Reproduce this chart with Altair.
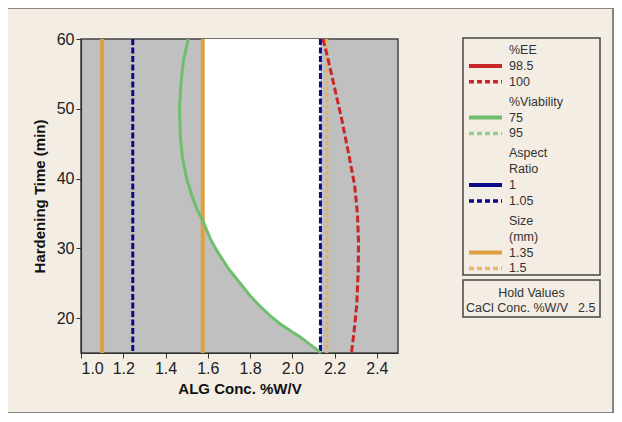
import altair as alt
import pandas as pd

# ---------------- data ----------------
x_ticks = [1.0, 1.2, 1.4, 1.6, 1.8, 2.0, 2.2, 2.4]
y_ticks = [20, 30, 40, 50, 60]

size_135_x = [1.10, 1.576]        # Size (mm) = 1.35 contour (solid orange)
size_150_x = [2.163]              # Size (mm) = 1.5 contour (dashed orange)
ar_105_x = [1.245, 2.133]         # Aspect Ratio = 1.05 contour (dashed navy)

via75_y = [60, 57, 54, 50, 46, 43, 40, 37.5, 35.5, 33.8, 31.5, 29.7, 27, 25,
           23.2, 21.7, 20.2, 19.2, 18, 17.3, 16.3, 15.3, 15.0]
via75_x = [1.508, 1.485, 1.474, 1.466, 1.470, 1.480, 1.500, 1.525, 1.550, 1.579,
           1.610, 1.642, 1.700, 1.753, 1.800, 1.848, 1.900, 1.942, 2.000, 2.037,
           2.080, 2.124, 2.135]

ee100_y = [60, 57, 53, 48.3, 43, 39, 35, 31, 27, 22, 18.3, 15]
ee100_x = [2.145, 2.170, 2.200, 2.235, 2.270, 2.295, 2.308, 2.313, 2.312, 2.305,
           2.293, 2.280]

legend_groups = [
    (["%EE"], [("98.5", "#c62828", "solid"), ("100", "#c62828", "dash")]),
    (["%Viability"], [("75", "#6dbf6d", "solid"), ("95", "#8fd08f", "dash")]),
    (["Aspect", "Ratio"], [("1", "#0a0a8a", "solid"), ("1.05", "#0a0a8a", "dash")]),
    (["Size", "(mm)"], [("1.35", "#e0a040", "solid"), ("1.5", "#e8b868", "dash")]),
]
hold_title = "Hold Values"
hold_name = "CaCl Conc. %W/V"
hold_value = "2.5"

# ---------------- styling ----------------
RED = "#c62828"
GREEN = "#6dbf6d"
NAVY = "#0a0a8a"
ORANGE = "#e0a040"
GRAY = "#c0c0c0"
BG = "#f3ede3"
FONT = "Liberation Sans"

W, H = 317, 314
xs = alt.Scale(domain=[1.0, 2.5], nice=False, zero=False)
ys = alt.Scale(domain=[15, 60], nice=False, zero=False)

x_axis = alt.Axis(values=x_ticks, format=".1f", title="ALG Conc. %W/V", grid=False,
                  tickSize=5, labelPadding=2, titlePadding=5)
y_axis = alt.Axis(values=y_ticks, title="Hardening Time (min)", grid=False,
                  tickSize=5, labelPadding=2, titlePadding=9)

# feasible (white) region
left_bound = [max(v, size_135_x[1]) for v in via75_x]
region = pd.DataFrame({"y": via75_y, "x": left_bound,
                       "x2": [ar_105_x[1]] * len(via75_y)}).sort_values("y")
white = alt.Chart(region).mark_area(orient="horizontal", color="white", opacity=1).encode(
    y=alt.Y("y:Q", scale=ys, axis=y_axis),
    x=alt.X("x:Q", scale=xs, axis=x_axis),
    x2="x2:Q",
)

def vrules(vals, color, dash, width):
    kw = dict(color=color, strokeWidth=width)
    if dash:
        kw["strokeDash"] = dash
    return alt.Chart(pd.DataFrame({"x": vals})).mark_rule(**kw).encode(
        x=alt.X("x:Q", scale=xs))

orange_solid = vrules(size_135_x, ORANGE, None, 4)
orange_dash = vrules(size_150_x, "#e8b060", [4, 2], 3)
navy_dash = vrules(ar_105_x, NAVY, [6, 2.5], 3)

green = alt.Chart(pd.DataFrame({"x": via75_x, "y": via75_y, "i": range(len(via75_x))})).mark_line(
    color=GREEN, strokeWidth=3).encode(
    x=alt.X("x:Q", scale=xs), y=alt.Y("y:Q", scale=ys), order="i:Q")

red = alt.Chart(pd.DataFrame({"x": ee100_x, "y": ee100_y, "i": range(len(ee100_x))})).mark_line(
    color=RED, strokeWidth=3, strokeDash=[7, 3]).encode(
    x=alt.X("x:Q", scale=xs), y=alt.Y("y:Q", scale=ys), order="i:Q")

# ---------------- legend panel (pixel layout) ----------------
LX0, LX1 = 382, 519
TXT_X = 428
SMP0, SMP1 = 388, 421
rows_txt, rows_line = [], []
i = 0
for g, (headers, entries) in enumerate(legend_groups):
    for h in headers:
        rows_txt.append({"x": TXT_X, "y": 11 + 15.9 * i + 3.9 * g, "t": h})
        i += 1
    for lab, col, sty in entries:
        yy = 11 + 15.9 * i + 3.9 * g
        rows_txt.append({"x": TXT_X, "y": yy, "t": lab})
        rows_line.append({"x": SMP0, "x2": SMP1, "y": yy, "c": col, "s": sty})
        i += 1
leg_txt = alt.Chart(pd.DataFrame(rows_txt)).mark_text(
    align="left", baseline="middle", font=FONT, fontSize=12.5, color="#333").encode(
    x=alt.X("x:Q", scale=None, axis=None), y=alt.Y("y:Q", scale=None, axis=None), text="t:N")

ldf = pd.DataFrame(rows_line)
leg_solid = alt.Chart(ldf[ldf.s == "solid"]).mark_rule(strokeWidth=4).encode(
    x=alt.X("x:Q", scale=None, axis=None), x2="x2:Q",
    y=alt.Y("y:Q", scale=None, axis=None), color=alt.Color("c:N", scale=None))
leg_dash = alt.Chart(ldf[ldf.s == "dash"]).mark_rule(strokeWidth=3.5, strokeDash=[5, 3]).encode(
    x=alt.X("x:Q", scale=None, axis=None), x2="x2:Q",
    y=alt.Y("y:Q", scale=None, axis=None), color=alt.Color("c:N", scale=None))

boxes = pd.DataFrame({"x": [LX0, LX0, -74], "x2": [LX1, LX1, 532],
                      "y": [-1, 241, -31], "y2": [236, 278, 374],
                      "w": [1.5, 1.5, 1.5], "c": ["#444", "#444", "#666"]})
box = alt.Chart(boxes).mark_rect(fillOpacity=0, fill="white").encode(
    x=alt.X("x:Q", scale=None, axis=None), x2="x2:Q",
    y=alt.Y("y:Q", scale=None, axis=None), y2="y2:Q",
    stroke=alt.Stroke("c:N", scale=None), strokeWidth=alt.StrokeWidth("w:Q", scale=None))

hold = alt.Chart(pd.DataFrame([
    {"x": (LX0 + LX1) / 2, "y": 254, "t": hold_title},
])).mark_text(align="center", baseline="middle", font=FONT, fontSize=12.5, color="#333").encode(
    x=alt.X("x:Q", scale=None, axis=None), y=alt.Y("y:Q", scale=None, axis=None), text="t:N")
hold2 = alt.Chart(pd.DataFrame([
    {"x": 385, "y": 268.5, "t": hold_name},
    {"x": 497, "y": 268.5, "t": hold_value},
])).mark_text(align="left", baseline="middle", font=FONT, fontSize=12.5, color="#333").encode(
    x=alt.X("x:Q", scale=None, axis=None), y=alt.Y("y:Q", scale=None, axis=None), text="t:N")

chart = alt.layer(white, orange_solid, navy_dash, orange_dash, green, red,
                  box, leg_solid, leg_dash, leg_txt, hold, hold2).properties(
    width=W, height=H,
    padding={"left": 73, "top": 31, "right": 216, "bottom": 60},
    autosize=alt.AutoSizeParams(type="none"),
).configure(background=BG).configure_view(
    fill=GRAY, stroke="#444", strokeWidth=1.5
).configure_axis(
    labelFont=FONT, labelFontSize=16, labelColor="#222",
    titleFont=FONT, titleFontSize=15, titleFontWeight="bold", titleColor="#111",
    domainColor="#333", tickColor="#333", domainWidth=1.2,
)

chart.save("out.html", embed_options={"renderer": "svg", "actions": False})
